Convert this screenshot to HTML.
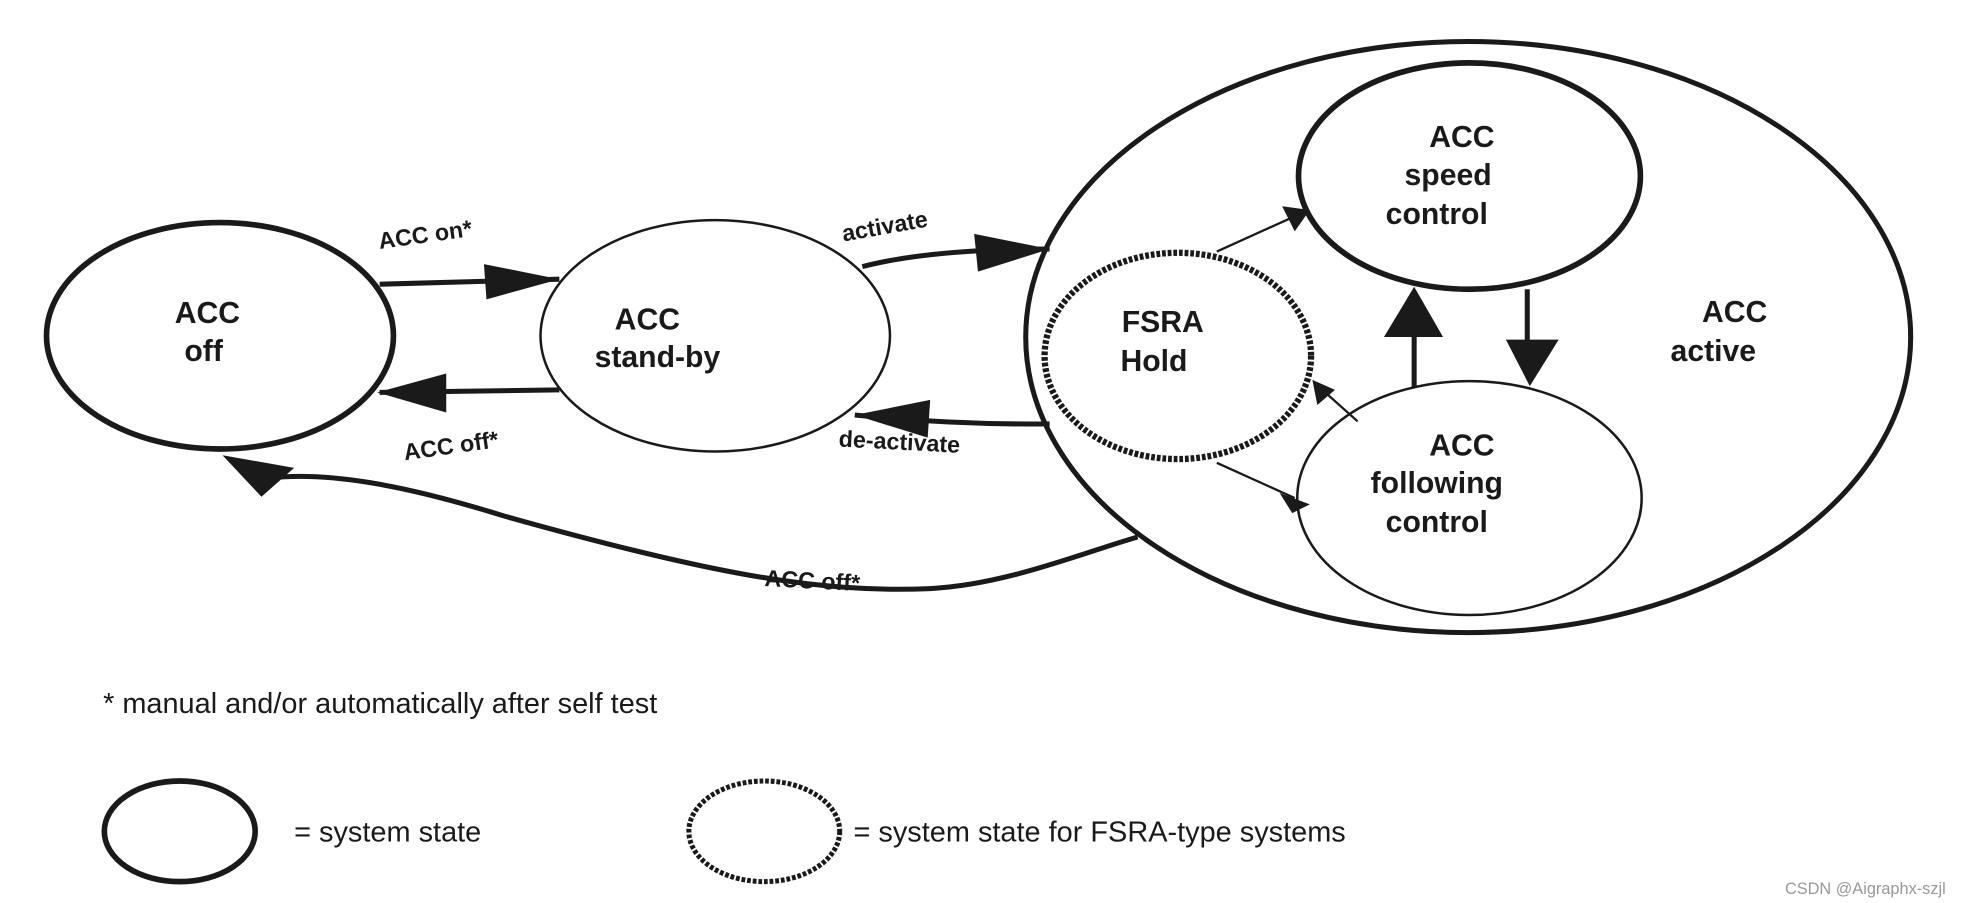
<!DOCTYPE html>
<html><head><style>html,body{margin:0;padding:0;background:#fff}svg{display:block}</style></head><body>
<svg width="1971" height="903" viewBox="0 0 1568 718" preserveAspectRatio="none" xmlns="http://www.w3.org/2000/svg" font-family="Liberation Sans, sans-serif">
<g fill="none" stroke="#1a1a1a">
<ellipse cx="175" cy="267" rx="138" ry="90" stroke-width="4.5"/>
<ellipse cx="569" cy="267" rx="139" ry="92" stroke-width="2"/>
<ellipse cx="1168" cy="268" rx="352" ry="235" stroke-width="4"/>
<ellipse cx="1169" cy="140" rx="136" ry="90" stroke-width="4.5"/>
<ellipse cx="1169" cy="396" rx="137" ry="93" stroke-width="2"/>
<ellipse cx="937" cy="283" rx="106" ry="82" stroke-width="5" stroke-dasharray="3 1.5"/>
<path d="M302 226 L445 222" stroke-width="4"/>
<path d="M445 310 L302 312" stroke-width="4"/>
<path d="M686 212 Q740 198 835 198" stroke-width="4"/>
<path d="M835 337 Q760 338 680 330" stroke-width="4"/>
<path d="M905 427 C860 440 800 465 740 468 C650 472 560 455 400 410 C320 385 260 375 215 380" stroke-width="4"/>
<path d="M968 200 L1030 172" stroke-width="1.8"/>
<path d="M1080 335 L1052 310" stroke-width="1.8"/>
<path d="M968 368 L1030 396" stroke-width="1.8"/>
<path d="M1215 230 L1215 275" stroke-width="4"/>
<path d="M1125 308 L1125 265" stroke-width="4"/>
<ellipse cx="143" cy="661" rx="60" ry="40" stroke-width="4.5"/>
<ellipse cx="608" cy="661" rx="60" ry="40" stroke-width="4" stroke-dasharray="3 1.5"/>
</g>
<g fill="#1a1a1a">
<path d="M385 210 L445 222 L387 238 Z"/>
<path d="M355 297 L300 312 L355 328 Z"/>
<path d="M775 186 L835 198 L778 216 Z"/>
<path d="M740 318 L680 330 L738 348 Z"/>
<path d="M177 362 L234 372 L208 395 Z"/>
<path d="M1042 167 L1020 164 L1030 184 Z"/>
<path d="M1044 302 L1048 322 L1062 310 Z"/>
<path d="M1042 401 L1018 392 L1028 408 Z"/>
<path d="M1198 270 L1240 270 L1217 307 Z"/>
<path d="M1101 268 L1148 268 L1125 228 Z"/>
</g>
<g font-weight="bold" font-size="24" fill="#1a1a1a" text-anchor="middle">
<text x="165" y="257">ACC</text><text x="162" y="287">off</text>
<text x="515" y="262">ACC</text><text x="523" y="292">stand-by</text>
<text x="1163" y="117">ACC</text><text x="1152" y="147">speed</text><text x="1143" y="178">control</text>
<text x="925" y="264">FSRA</text><text x="918" y="295">Hold</text>
<text x="1380" y="256">ACC</text><text x="1363" y="287">active</text>
<text x="1163" y="362">ACC</text><text x="1143" y="392">following</text><text x="1143" y="423">control</text>
</g>
<g font-weight="bold" font-size="18.5" fill="#1a1a1a">
<text x="302" y="198" transform="rotate(-8 302 198)">ACC on*</text>
<text x="322" y="366" transform="rotate(-8 322 366)">ACC off*</text>
<text x="671" y="192" transform="rotate(-10 671 192)">activate</text>
<text x="667" y="355" transform="rotate(3 667 355)">de-activate</text>
<text x="608" y="466" transform="rotate(3 608 466)">ACC off*</text>
</g>
<g font-size="23" fill="#1a1a1a">
<text x="82" y="567">*  manual and/or automatically after self test</text>
<text x="234" y="669">= system state</text>
<text x="679" y="669">= system state for FSRA-type systems</text>
</g>
<text x="1420" y="711" font-size="13" fill="#999">CSDN @Aigraphx-szjl</text>
</svg>
</body></html>
